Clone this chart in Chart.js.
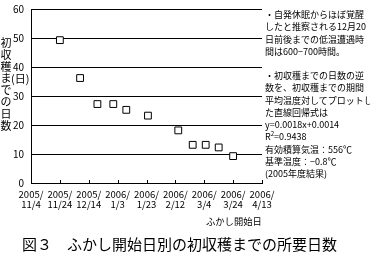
<!DOCTYPE html>
<html>
<head>
<meta charset="utf-8">
<script src="https://cdn.jsdelivr.net/npm/chart.js@4/dist/chart.umd.min.js"></script>
<style>
  body { margin: 0; background: #fff; }
  #wrap { position: relative; width: 370px; height: 258px; overflow: hidden; font-family: "Noto Sans CJK JP", sans-serif; color: #000; }
  #wrap canvas { position: absolute; left: 0; top: 0; }
  .txt { position: absolute; white-space: nowrap; }
  #ytitle { left: 0; top: 37px; font-size: 11px; line-height: 11.8px; width: 12px; white-space: normal; text-align: center; }
  #yunit { left: 11px; top: 72px; font-size: 11px; line-height: 13px; }
  .note { left: 265px; font-size: 9px; line-height: 12.3px; }
  #note1 { top: 9px; }
  #note2 { top: 70px; }
  #xtitle { left: 206px; top: 215px; font-size: 9.3px; line-height: 12px; }
  #caption { left: 22px; top: 233px; font-size: 15px; }
</style>
</head>
<body>
<div id="wrap">
  <canvas id="fukashiChart" width="370" height="258"></canvas>
  <div class="txt" id="ytitle">初収穫までの日数</div>
  <div class="txt" id="yunit">(日)</div>
  <div class="txt note" id="note1">・自発休眠からほぼ覚醒<br>したと推察される12月20<br>日前後までの低温遭遇時<br>間は600−700時間。</div>
  <div class="txt note" id="note2">・初収穫までの日数の逆<br>数を、初収穫までの期間<br>平均温度対してプロットし<br>た直線回帰式は<br>y=0.0018x+0.0014<br>R<sup style="font-size:6px;line-height:0">2</sup>=0.9438<br>有効積算気温：556℃<br>基準温度：−0.8℃<br>(2005年度結果)</div>
  <div class="txt" id="xtitle">ふかし開始日</div>
  <div class="txt" id="caption">図３　ふかし開始日別の初収穫までの所要日数</div>
</div>
<script>
// days after 2005/11/4 when forcing (ふかし) started
const startDay = [20, 34, 46, 57, 66, 81, 102, 112, 121, 130, 140];
// days until first harvest
const daysToHarvest = [49.4, 36.3, 27.3, 27.3, 25.3, 23.3, 18.2, 13.2, 13.2, 12.3, 9.3];
// x tick labels (every 20 days)
const tickYears = ['2005/', '2005/', '2005/', '2006/', '2006/', '2006/', '2006/', '2006/', '2006/'];
const tickDates = ['11/4', '11/24', '12/14', '1/3', '1/23', '2/12', '3/4', '3/24', '4/13'];

const points = startDay.map((d, i) => ({ x: d, y: daysToHarvest[i] }));

// small tick marks pointing up from the x axis
const innerTicks = {
    id: 'innerTicks',
    afterDraw(chart) {
        const xs = chart.scales.x;
        const bottom = chart.chartArea.bottom;
        const ctx = chart.ctx;
        ctx.save();
        ctx.strokeStyle = '#000';
        ctx.lineWidth = 1;
        xs.ticks.forEach(t => {
            const px = Math.round(xs.getPixelForValue(t.value)) + 0.5;
            ctx.beginPath();
            ctx.moveTo(px, bottom);
            ctx.lineTo(px, bottom - 3);
            ctx.stroke();
        });
        ctx.restore();
    }
};

const ctx = document.getElementById('fukashiChart').getContext('2d');
const fukashiChart = new Chart(ctx, {
    type: 'scatter',
    data: {
        datasets: [{
            data: points,
            pointStyle: 'rect',
            pointRadius: 4.8,
            pointBorderWidth: 1,
            pointBorderColor: '#000',
            pointBackgroundColor: '#fff'
        }]
    },
    options: {
        responsive: false,
        animation: false,
        layout: { padding: { top: 3, right: 108, left: 0, bottom: 0 } },
        plugins: {
            legend: { display: false },
            tooltip: { enabled: false }
        },
        scales: {
            x: {
                type: 'linear',
                min: 0,
                max: 160,
                afterFit: function(scale) { scale.height = 75; },
                ticks: {
                    stepSize: 20,
                    autoSkip: false,
                    maxRotation: 0,
                    padding: -2,
                    color: '#000',
                    font: { family: 'Noto Sans CJK JP', size: 9.5, lineHeight: 1.1 },
                    callback: function(value, index) {
                        return [tickYears[index], tickDates[index]];
                    }
                },
                grid: { display: false },
                border: { display: true, color: '#000', width: 1 }
            },
            y: {
                min: 0,
                max: 60,
                afterFit: function(scale) { scale.width = 31; },
                ticks: {
                    stepSize: 10,
                    padding: 7,
                    color: '#000',
                    font: { family: 'Noto Sans CJK JP', size: 10, lineHeight: 0.5 }
                },
                grid: { color: '#000', lineWidth: 1, drawTicks: false },
                border: { display: true, color: '#000', width: 1 }
            }
        }
    },
    plugins: [innerTicks]
});
</script>
</body>
</html>
